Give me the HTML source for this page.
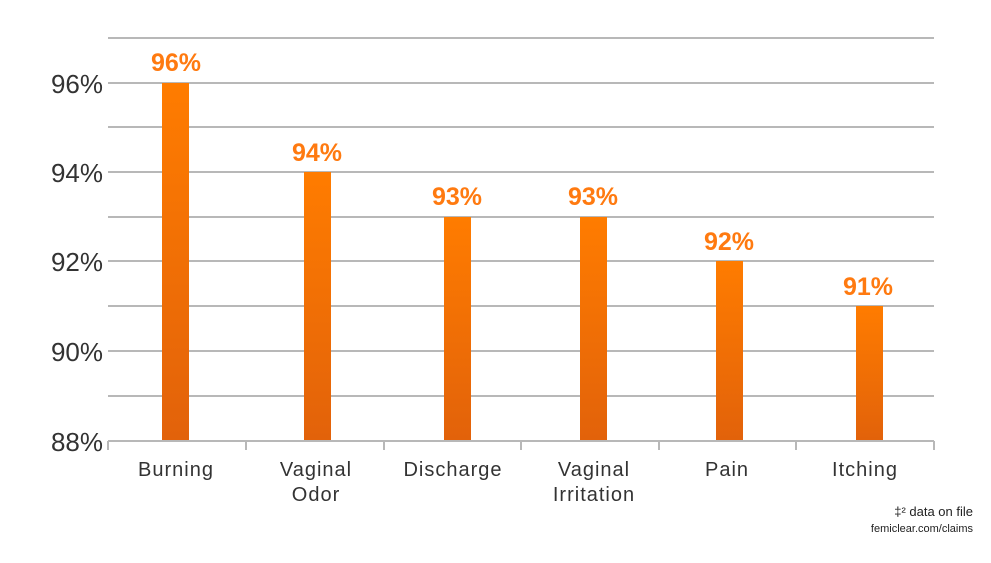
<!DOCTYPE html>
<html><head><meta charset="utf-8"><style>
body{margin:0;background:#fff;width:991px;height:558px;overflow:hidden;font-family:"Liberation Sans",sans-serif}
</style></head><body>
<svg width="991" height="558" xmlns="http://www.w3.org/2000/svg">
<defs><linearGradient id="g" x1="0" y1="0" x2="0" y2="1"><stop offset="0" stop-color="#ff7c00"/><stop offset="1" stop-color="#e2620a"/></linearGradient></defs>
<g stroke="#b8b8b8" stroke-width="2">
<line x1="108" x2="934" y1="38" y2="38"/><line x1="108" x2="934" y1="83" y2="83"/><line x1="108" x2="934" y1="127" y2="127"/><line x1="108" x2="934" y1="172" y2="172"/><line x1="108" x2="934" y1="217" y2="217"/><line x1="108" x2="934" y1="261" y2="261"/><line x1="108" x2="934" y1="306" y2="306"/><line x1="108" x2="934" y1="351" y2="351"/><line x1="108" x2="934" y1="396" y2="396"/><line x1="108" x2="934" y1="441" y2="441"/>
<line x1="108" x2="108" y1="441" y2="450"/><line x1="246" x2="246" y1="441" y2="450"/><line x1="384" x2="384" y1="441" y2="450"/><line x1="521" x2="521" y1="441" y2="450"/><line x1="659" x2="659" y1="441" y2="450"/><line x1="796" x2="796" y1="441" y2="450"/><line x1="934" x2="934" y1="441" y2="450"/>
</g>
<g fill="url(#g)">
<rect x="162" y="83" width="27" height="357"/>
<rect x="304" y="172" width="27" height="268"/>
<rect x="444" y="217" width="27" height="223"/>
<rect x="580" y="217" width="27" height="223"/>
<rect x="716" y="261" width="27" height="179"/>
<rect x="856" y="306" width="27" height="134"/>
</g>
<g fill="#ff7a10" font-weight="bold" font-size="25" text-anchor="middle">
<text x="176" y="71">96%</text><text x="317" y="161">94%</text><text x="457" y="205">93%</text><text x="593" y="205">93%</text><text x="729" y="250">92%</text><text x="868" y="295">91%</text>
</g>
<g fill="#333" font-size="26" text-anchor="end">
<text x="103" y="93">96%</text><text x="103" y="182">94%</text><text x="103" y="271">92%</text><text x="103" y="361">90%</text><text x="103" y="451">88%</text>
</g>
<g fill="#333" font-size="20" text-anchor="middle" letter-spacing="1">
<text x="176" y="476">Burning</text>
<text x="316" y="476">Vaginal</text><text x="316" y="501">Odor</text>
<text x="453" y="476">Discharge</text>
<text x="594" y="476">Vaginal</text><text x="594" y="501">Irritation</text>
<text x="727" y="476">Pain</text>
<text x="865" y="476">Itching</text>
</g>
<text x="973" y="516" font-size="13" text-anchor="end" fill="#222">‡² data on file</text>
<text x="973" y="532" font-size="11" text-anchor="end" fill="#222">femiclear.com/claims</text>
</svg>
</body></html>
